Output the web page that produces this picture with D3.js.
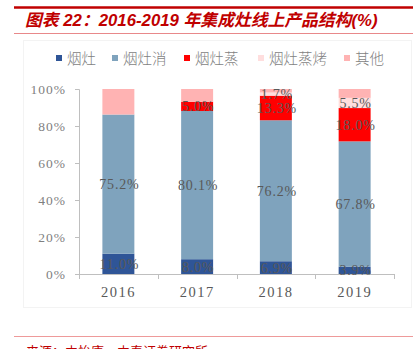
<!DOCTYPE html>
<html><head><meta charset="utf-8">
<script src="https://cdn.jsdelivr.net/npm/d3@7"></script>
<style>body{margin:0;background:#fff;}svg{display:block;}</style>
</head><body>
<svg id="c" width="419" height="349"></svg>
<script>
const years = ["2016","2017","2018","2019"];
const seriesNames = ["烟灶","烟灶消","烟灶蒸","烟灶蒸烤","其他"];
const yanzao      = [11.0, 8.0, 6.9, 3.9];
const yanzaoxiao  = [75.2, 80.1, 76.2, 67.8];
const yanzaozheng = [0, 5.0, 13.3, 18.0];
const yanzaokao   = [0, 0, 1.7, 5.5];
const qita        = [13.8, 6.9, 1.9, 4.8];
const yTicks = [0,20,40,60,80,100];
const colors = ["#2F5597","#7FA3BD","#FF0000","#FFDEDE","#FFB3B3"];
const labeled = [true,true,true,true,false];

const svg = d3.select("#c");
const serif = "'Liberation Serif','Times New Roman',serif";
const cjk = "'Noto Sans CJK SC','Noto Sans',sans-serif";

// frame lines
svg.append("line").attr("x1",14).attr("x2",413).attr("y1",7.5).attr("y2",7.5).attr("stroke","#C00000").attr("stroke-width",2.5);
svg.append("line").attr("x1",14).attr("x2",413).attr("y1",33.5).attr("y2",33.5).attr("stroke","#E8888A").attr("stroke-width",1);
svg.append("text").attr("x",25).attr("y",26).attr("fill","#C00000")
  .attr("font-family","Arial,'Liberation Sans','Noto Sans CJK SC',sans-serif")
  .attr("font-size",16.8).attr("font-weight","bold").attr("font-style","italic")
  .text("图表 22：2016-2019 年集成灶线上产品结构(%)");
svg.append("rect").attr("x",23.5).attr("y",40.5).attr("width",388).attr("height",267).attr("fill","none").attr("stroke","#f3f3f3");
svg.append("line").attr("x1",14).attr("x2",413).attr("y1",336.5).attr("y2",336.5).attr("stroke","#EE9A9A").attr("stroke-width",1);
svg.append("text").attr("x",26).attr("y",356).attr("fill","#C00000").attr("font-family",cjk).attr("font-size",13)
  .text("来源：中怡康，中泰证券研究所");

// data
const data = years.map((y,i)=>({year:y, vals:[yanzao[i],yanzaoxiao[i],yanzaozheng[i],yanzaokao[i],qita[i]]}));
const x = d3.scaleBand().domain(years).range([79,394]).paddingInner(0.594).paddingOuter(0.297);
const y = d3.scaleLinear().domain([0,100]).range([274,89]);

// y axis
const yAxis = svg.append("g").attr("transform","translate(79,0)")
  .call(d3.axisLeft(y).tickValues(yTicks).tickFormat(d=>d+"%").tickSize(4).tickPadding(9));
yAxis.select(".domain").attr("stroke","#BFBFBF").attr("d","M-4,89.5H0.5V274.5");
yAxis.selectAll(".tick line").attr("stroke","#BFBFBF");
yAxis.selectAll(".tick text").attr("fill","#7F7F7F").attr("font-family",serif).attr("font-size",13.5).attr("letter-spacing",1);

// bars
const stackG = svg.append("g");
data.forEach(d=>{
  let cum=0;
  d.vals.forEach((v,k)=>{
    if(v<=0) return;
    stackG.append("rect").attr("x",x(d.year)).attr("width",x.bandwidth())
      .attr("y",y(cum+v)).attr("height",y(cum)-y(cum+v)).attr("fill",colors[k]);
    cum+=v;
  });
});

// x axis
const step = x.step();
const xg = svg.append("g");
xg.append("line").attr("x1",79).attr("x2",394).attr("y1",274.5).attr("y2",274.5).attr("stroke","#BFBFBF");
d3.range(years.length+1).forEach(i=>{
  const xx = Math.round(79+i*step)+0.5;
  xg.append("line").attr("x1",xx).attr("x2",xx).attr("y1",274).attr("y2",279).attr("stroke","#BFBFBF");
});
years.forEach(yr=>{
  xg.append("text").attr("x",x(yr)+x.bandwidth()/2).attr("y",297).attr("text-anchor","middle")
    .attr("fill","#595959").attr("font-family",serif).attr("font-size",14.5).attr("letter-spacing",1.5).text(yr);
});

// labels
data.forEach(d=>{
  let cum=0;
  d.vals.forEach((v,k)=>{
    if(v<=0) {return;}
    if(labeled[k]){
      svg.append("text").attr("x",x(d.year)+x.bandwidth()/2+1).attr("y",y(cum+v/2)+5)
        .attr("text-anchor","middle").attr("fill","#595959").attr("font-family",serif)
        .attr("font-size",14).attr("letter-spacing",0.8).text(v.toFixed(1)+"%");
    }
    cum+=v;
  });
});

// legend
const legX = [56,112,184,258,344];
seriesNames.forEach((n,i)=>{
  svg.append("rect").attr("x",legX[i]).attr("y",55).attr("width",6).attr("height",6).attr("fill",colors[i]);
  svg.append("text").attr("x",legX[i]+11).attr("y",63.5).attr("fill","#7F7F7F").attr("font-family",cjk)
    .attr("font-size",14.5).attr("font-weight",300).text(n);
});
</script>
</body></html>
